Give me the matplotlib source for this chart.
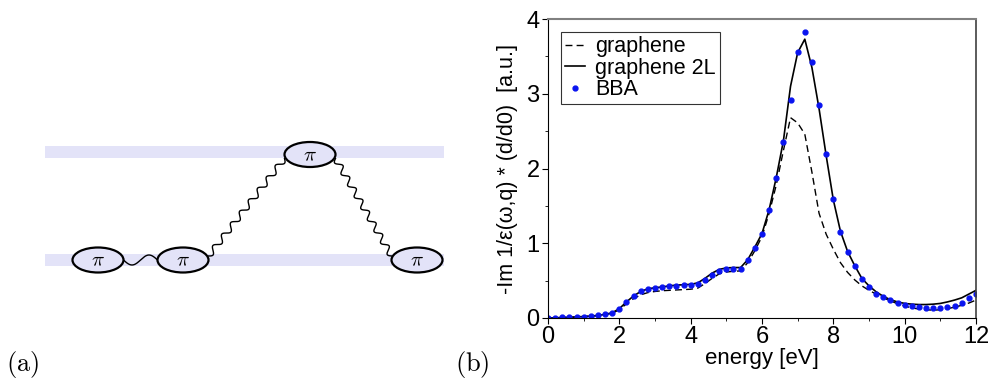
import numpy as np
import matplotlib
matplotlib.use("Agg")
import matplotlib.pyplot as plt
from matplotlib.patches import Ellipse, Rectangle

plt.rcParams['font.family'] = ['Liberation Sans', 'DejaVu Sans']
plt.rcParams['mathtext.fontset'] = 'cm'

# energy grid of the spectra [eV]
energy = [0.0, 0.2, 0.4, 0.6, 0.8, 1.0, 1.2, 1.4, 1.6, 1.8,
          2.0, 2.2, 2.4, 2.6, 2.8, 3.0, 3.2, 3.4, 3.6, 3.8,
          4.0, 4.2, 4.4, 4.6, 4.8, 5.0, 5.2, 5.4, 5.6, 5.8,
          6.0, 6.2, 6.4, 6.6, 6.8, 7.0, 7.2, 7.4, 7.6, 7.8,
          8.0, 8.2, 8.4, 8.6, 8.8, 9.0, 9.2, 9.4, 9.6, 9.8,
          10.0, 10.2, 10.4, 10.6, 10.8, 11.0, 11.2, 11.4, 11.6, 11.8, 12.0]

graphene = [0.0, 0.003, 0.006, 0.01, 0.014, 0.018, 0.024, 0.032, 0.045, 0.065,
            0.11, 0.19, 0.26, 0.31, 0.34, 0.355, 0.365, 0.37, 0.375, 0.38,
            0.385, 0.40, 0.46, 0.53, 0.59, 0.615, 0.625, 0.63, 0.74, 0.90,
            1.09, 1.40, 1.78, 2.24, 2.68, 2.61, 2.46, 1.95, 1.40, 1.12,
            0.92, 0.74, 0.61, 0.51, 0.43, 0.37, 0.32, 0.27, 0.23, 0.19,
            0.16, 0.135, 0.12, 0.11, 0.105, 0.11, 0.125, 0.145, 0.17, 0.20, 0.24]

graphene_2l = [0.0, 0.003, 0.006, 0.01, 0.014, 0.02, 0.026, 0.034, 0.048, 0.07,
               0.125, 0.215, 0.295, 0.355, 0.39, 0.405, 0.415, 0.43, 0.44, 0.445,
               0.45, 0.47, 0.53, 0.60, 0.65, 0.67, 0.675, 0.675, 0.78, 0.95,
               1.13, 1.45, 1.88, 2.37, 3.10, 3.55, 3.73, 3.35, 2.80, 2.17,
               1.58, 1.16, 0.89, 0.70, 0.53, 0.43, 0.35, 0.29, 0.245, 0.215,
               0.195, 0.185, 0.18, 0.18, 0.185, 0.195, 0.215, 0.24, 0.27, 0.32, 0.37]

bba = [0.0, 0.005, 0.008, 0.012, 0.016, 0.02, 0.027, 0.035, 0.05, 0.07,
       0.125, 0.21, 0.29, 0.355, 0.385, 0.40, 0.41, 0.425, 0.43, 0.435,
       0.44, 0.46, 0.515, 0.57, 0.63, 0.66, 0.65, 0.65, 0.77, 0.94,
       1.125, 1.44, 1.87, 2.36, 2.915, 3.556, 3.82, 3.426, 2.843, 2.19,
       1.587, 1.157, 0.883, 0.695, 0.516, 0.417, 0.327, 0.287, 0.238, 0.20,
       0.18, 0.16, 0.148, 0.139, 0.135, 0.135, 0.143, 0.16, 0.206, 0.265, 0.323]

x_ticks = [0, 2, 4, 6, 8, 10, 12]
y_ticks = [0, 1, 2, 3, 4]

# diagram (a): pi-states on two bands, pixel layout
band_y = [151.5, 260]
band_x = [45, 444]
nodes_x = [98, 183, 310, 417]
nodes_y = [260, 260, 154.5, 260]
node_w, node_h = 51, 25

band_col = '#e3e3f8'


def wavy(ax, p0, p1, n_waves, amp=3.0):
    p0 = np.array(p0, float)
    p1 = np.array(p1, float)
    d = p1 - p0
    L = np.hypot(*d)
    t = np.linspace(0, 1, 400)
    nrm = np.array([-d[1], d[0]]) / L
    off = amp * np.sin(2 * np.pi * n_waves * t)
    pts = p0[None, :] + t[:, None] * d[None, :] + off[:, None] * nrm[None, :]
    ax.plot(pts[:, 0], pts[:, 1], color='black', lw=1.0, zorder=2)


fig = plt.figure(figsize=(9.89, 3.85), dpi=100)

ax_a = fig.add_axes([0, 0, 460 / 989, 1])
ax_a.set_xlim(0, 460)
ax_a.set_ylim(385, 0)
ax_a.axis('off')
for by in band_y:
    ax_a.add_patch(Rectangle((band_x[0], by - 6), band_x[1] - band_x[0], 12,
                             color=band_col, lw=0, zorder=0))
wavy(ax_a, (nodes_x[0] + node_w / 2, nodes_y[0]), (nodes_x[1] - node_w / 2, nodes_y[1]), 1, amp=5)
wavy(ax_a, (nodes_x[1] + node_w / 2, nodes_y[1] - 4), (nodes_x[2] - node_w / 2, nodes_y[2] + 4), 8.5)
wavy(ax_a, (nodes_x[2] + node_w / 2, nodes_y[2] + 4), (nodes_x[3] - node_w / 2, nodes_y[3] - 4), 8.5)
for nx, ny in zip(nodes_x, nodes_y):
    ax_a.add_patch(Ellipse((nx, ny), node_w, node_h, facecolor=band_col,
                           edgecolor='black', lw=1.6, zorder=3))
    ax_a.text(nx, ny + 1, r'$\pi$', ha='center', va='center', fontsize=15, zorder=4)
ax_a.text(6, 364, r'$\mathrm{(a)}$', ha='left', va='center', fontsize=19)
fig.text(455 / 989, 1 - 364 / 385, r'$\mathrm{(b)}$', ha='left', va='center', fontsize=19)

ax = fig.add_axes([548 / 989, 1 - 318 / 385, 428 / 989, 299 / 385])
ax.plot(energy, graphene, color='black', ls=(0, (5, 3)), lw=1.0, label='graphene')
ax.plot(energy, graphene_2l, color='black', lw=1.2, label='graphene 2L')
ax.plot(energy, bba, ls='none', marker='o', ms=3.5, color='#0a14f0', label='BBA')
ax.set_xlim(0, 12)
ax.set_ylim(0, 4)
ax.set_xticks(x_ticks)
ax.set_yticks(y_ticks)
ax.set_xticks(np.arange(1, 12, 2), minor=True)
ax.set_yticks(np.arange(0.5, 4, 1), minor=True)
ax.tick_params(which='major', direction='out', length=4, labelsize=17, pad=2)
ax.tick_params(which='minor', direction='out', length=2)
ax.spines['top'].set_color('#808080')
ax.spines['top'].set_linewidth(1.5)
ax.spines['right'].set_color('#404040')
ax.spines['right'].set_linewidth(1.2)
ax.set_xlabel('energy [eV]', fontsize=16, labelpad=0)
ax.set_ylabel('-Im 1/\u03b5(\u03c9,q) * (d/d0)  [a.u.]', fontsize=15.5, labelpad=6)
leg = ax.legend(loc='upper left', fontsize=15.5, frameon=True, fancybox=False,
                edgecolor='black', handlelength=0.9, handletextpad=0.5,
                borderpad=0.2, labelspacing=0.02, borderaxespad=0.6)
leg.get_frame().set_linewidth(0.8)

fig.savefig('out.png', dpi=100)
